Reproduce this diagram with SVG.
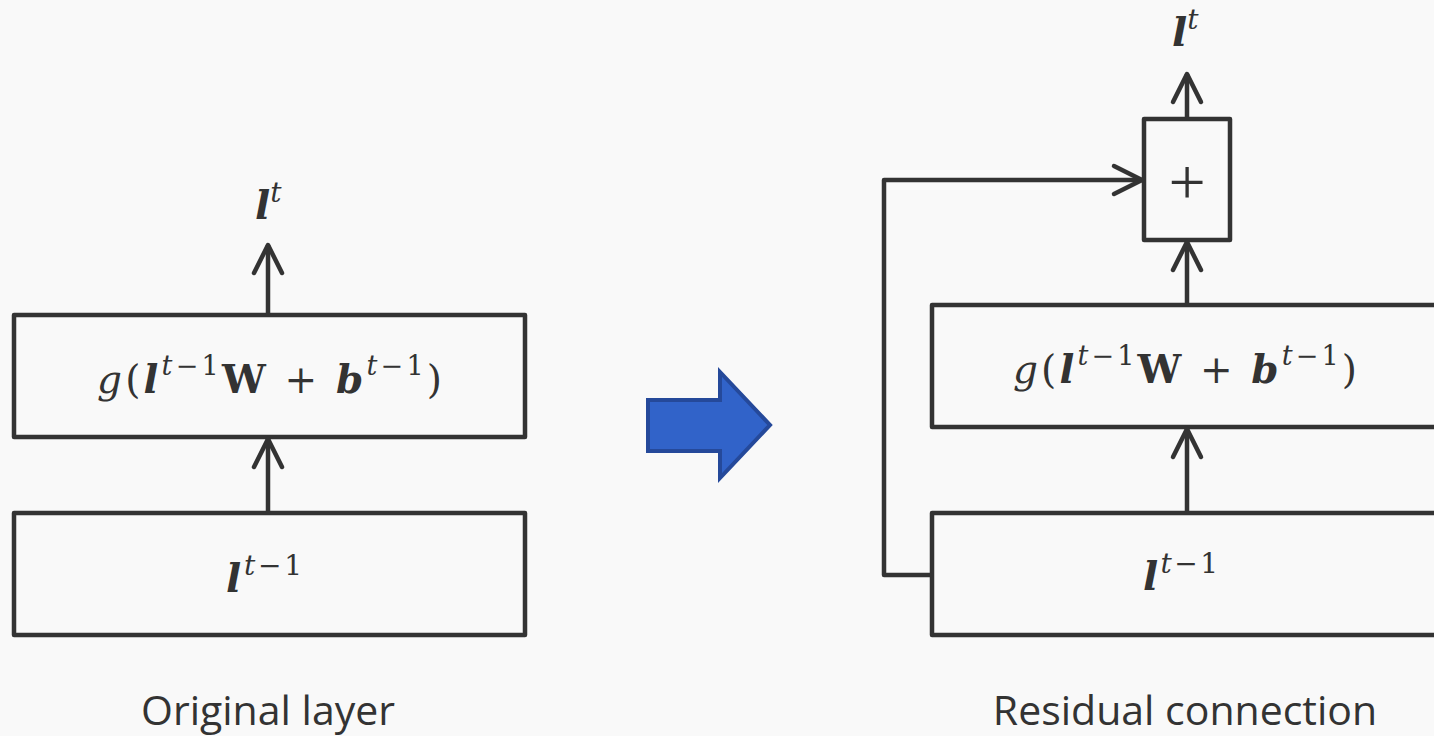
<svg xmlns="http://www.w3.org/2000/svg" width="1434" height="736" viewBox="0 0 1434 736">
  <defs>
    <style>
      .box { fill: none; stroke: #333333; stroke-width: 4.5; stroke-linejoin: round; }
      .wire { fill: none; stroke: #333333; stroke-width: 4.5; stroke-linejoin: round; }
      .expr { font-family: "DejaVu Serif", "Liberation Serif", serif; font-size: 39px; fill: #333333; }
      .var { font-family: "DejaVu Serif", "Liberation Serif", serif; font-size: 40px; fill: #333333; }
      .it { font-style: italic; }
      .bi { font-style: italic; font-weight: bold; }
      .bd { font-weight: bold; }
      .expr .sup { font-size: 27px; }
      .var .sup { font-size: 28px; }
      .caption { font-family: "Open Sans", Lato, "Liberation Sans", sans-serif; font-size: 41px; fill: #333333; }
      .plus { font-family: "Liberation Serif", serif; font-size: 66px; fill: #333333; }
    </style>
    <marker id="head" markerUnits="userSpaceOnUse" markerWidth="40" markerHeight="40" viewBox="-34 -20 40 40" refX="0" refY="0" orient="auto" overflow="visible">
      <path d="M -28 -14 L 0 0 L -28 14" fill="none" stroke="#333333" stroke-width="4.5" stroke-linecap="round" stroke-linejoin="round"/>
    </marker>
  </defs>

  <rect width="1434" height="736" fill="#f9f9f9"/>

  <!-- left: plain layer -->
  <g id="left-input">
    <rect class="box" x="14" y="513" width="511" height="122"/>
    <text class="var" x="226" y="592" textLength="76" lengthAdjust="spacing"><tspan class="bi">l</tspan><tspan class="sup" dy="-17"><tspan class="it">t</tspan>−1</tspan></text>
  </g>
  <g id="left-layer">
    <rect class="box" x="14" y="315" width="511" height="122"/>
    <text class="expr" x="97" y="393" textLength="345" lengthAdjust="spacing"><tspan class="it">g</tspan>(<tspan class="bi">l</tspan><tspan class="sup" dy="-18"><tspan class="it">t</tspan>−1</tspan><tspan class="bd" dy="18">W</tspan> + <tspan class="bi">b</tspan><tspan class="sup" dy="-18"><tspan class="it">t</tspan>−1</tspan><tspan dy="18">)</tspan></text>
  </g>
  <g id="left-output">
    <text class="var" x="255" y="219"><tspan class="bi">l</tspan><tspan class="sup it" dy="-17">t</tspan></text>
  </g>
  <g id="left-caption">
    <text class="caption" x="268" y="725" text-anchor="middle">Original layer</text>
  </g>

  <!-- transform arrow -->
  <g id="transform-arrow">
    <polygon points="648,400 720,400 720,372 770,425 720,478 720,451 648,451" fill="#3163c9" stroke="#25499a" stroke-width="4" stroke-linejoin="miter"/>
  </g>

  <!-- right: residual block -->
  <g id="right-input">
    <rect class="box" x="932" y="513" width="511" height="122"/>
    <text class="var" x="1143" y="590" textLength="75" lengthAdjust="spacing"><tspan class="bi">l</tspan><tspan class="sup" dy="-17"><tspan class="it">t</tspan>−1</tspan></text>
  </g>
  <g id="right-layer">
    <rect class="box" x="932" y="305" width="511" height="122"/>
    <text class="expr" x="1013" y="383" textLength="344" lengthAdjust="spacing"><tspan class="it">g</tspan>(<tspan class="bi">l</tspan><tspan class="sup" dy="-18"><tspan class="it">t</tspan>−1</tspan><tspan class="bd" dy="18">W</tspan> + <tspan class="bi">b</tspan><tspan class="sup" dy="-18"><tspan class="it">t</tspan>−1</tspan><tspan dy="18">)</tspan></text>
  </g>
  <g id="sum">
    <rect class="box" x="1144" y="119" width="86" height="121"/>
    <text class="plus" x="1187" y="204" text-anchor="middle">+</text>
  </g>
  <g id="right-output">
    <text class="var" x="1172" y="46"><tspan class="bi">l</tspan><tspan class="sup it" dy="-17">t</tspan></text>
  </g>
  <g id="right-caption">
    <text class="caption" x="1185" y="725" text-anchor="middle">Residual connection</text>
  </g>

  <!-- connectors -->
  <g id="connectors">
    <path class="wire" d="M 268 513 V 439" marker-end="url(#head)"/>
    <path class="wire" d="M 268 315 V 245" marker-end="url(#head)"/>
    <path class="wire" d="M 1187 513 V 429" marker-end="url(#head)"/>
    <path class="wire" d="M 1187 305 V 242" marker-end="url(#head)"/>
    <path class="wire" d="M 1187 119 V 74" marker-end="url(#head)"/>
    <path class="wire" d="M 932 575 H 884 V 180 H 1142" marker-end="url(#head)"/>
  </g>
</svg>
